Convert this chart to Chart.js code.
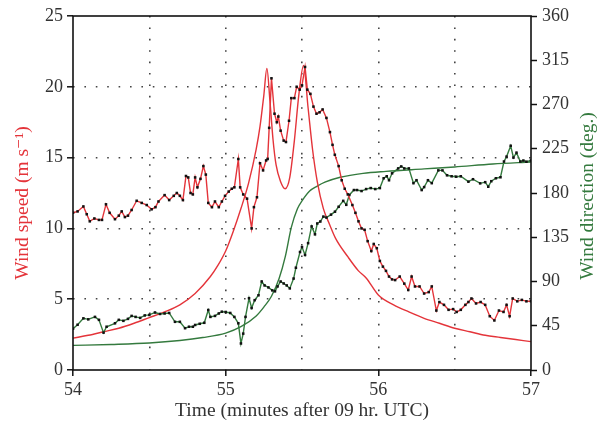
<!DOCTYPE html>
<html>
<head>
<meta charset="utf-8">
<script src="https://cdn.jsdelivr.net/npm/chart.js@4.4.0/dist/chart.umd.min.js"></script>
<style>
  html, body { margin: 0; padding: 0; background: #fff; }
  #wrap { width: 603px; height: 425px; }
</style>
</head>
<body>
<div id="wrap"><canvas id="grafico" width="603" height="425"></canvas></div>
<script>
// observed wind speed (minutes after 09 UTC, m/s)
const spdObsT = [54.00, 54.03, 54.068, 54.09, 54.11, 54.14, 54.17, 54.19, 54.216, 54.24, 54.275, 54.30, 54.319, 54.34, 54.36, 54.384, 54.417, 54.45, 54.483, 54.515, 54.54, 54.56, 54.60, 54.63, 54.66, 54.68, 54.70, 54.72, 54.74, 54.755, 54.77, 54.785, 54.80, 54.815, 54.835, 54.854, 54.87, 54.886, 54.91, 54.93, 54.955, 54.975, 54.996, 55.02, 55.04, 55.057, 55.083, 55.095, 55.115, 55.14, 55.17, 55.185, 55.205, 55.225, 55.245, 55.265, 55.275, 55.285, 55.30, 55.32, 55.335, 55.345, 55.36, 55.38, 55.395, 55.415, 55.43, 55.45, 55.465, 55.485, 55.50, 55.52, 55.535, 55.555, 55.575, 55.595, 55.615, 55.635, 55.66, 55.683, 55.70, 55.715, 55.74, 55.76, 55.78, 55.80, 55.83, 55.85, 55.87, 55.89, 55.91, 55.93, 55.954, 55.97, 55.99, 56.01, 56.03, 56.05, 56.07, 56.09, 56.11, 56.14, 56.17, 56.196, 56.218, 56.24, 56.27, 56.30, 56.33, 56.35, 56.38, 56.40, 56.43, 56.46, 56.49, 56.513, 56.54, 56.57, 56.59, 56.61, 56.64, 56.67, 56.70, 56.73, 56.76, 56.79, 56.82, 56.84, 56.86, 56.88, 56.91, 56.94, 56.97, 57.00];
const spdObs = [11.1, 11.2, 11.55, 11.0, 10.5, 10.7, 10.6, 10.6, 11.7, 11.1, 10.65, 10.9, 11.2, 10.8, 10.9, 11.3, 11.95, 11.8, 11.65, 11.35, 11.5, 11.9, 12.35, 12.0, 12.3, 12.5, 12.3, 12.0, 13.7, 13.6, 12.5, 12.4, 13.6, 12.9, 13.5, 14.4, 13.8, 11.8, 11.5, 11.9, 11.5, 11.9, 12.3, 12.6, 12.8, 12.9, 14.9, 12.9, 12.4, 12.1, 10.0, 11.5, 12.2, 14.6, 14.1, 14.8, 14.9, 17.1, 20.6, 18.1, 17.5, 17.9, 16.9, 16.2, 16.1, 17.6, 19.2, 19.2, 20.0, 19.8, 20.1, 21.4, 19.8, 19.5, 18.6, 18.1, 18.2, 18.4, 17.8, 16.8, 15.9, 15.2, 14.4, 13.4, 12.8, 12.4, 11.65, 11.1, 10.5, 10.0, 9.9, 9.1, 8.4, 8.9, 8.6, 7.7, 7.3, 7.0, 6.6, 6.4, 6.35, 6.6, 6.1, 5.65, 6.6, 5.9, 5.9, 5.4, 5.5, 5.9, 4.2, 4.8, 4.6, 4.25, 4.3, 4.1, 4.25, 4.6, 4.8, 5.05, 4.7, 4.8, 4.6, 3.8, 3.5, 4.2, 4.1, 4.6, 3.8, 5.05, 4.85, 4.95, 4.85, 4.85];

// observed wind direction (deg.)
const dirObsT = [54.00, 54.03, 54.068, 54.10, 54.144, 54.17, 54.20, 54.22, 54.275, 54.30, 54.33, 54.36, 54.384, 54.41, 54.44, 54.47, 54.50, 54.537, 54.57, 54.60, 54.63, 54.668, 54.70, 54.734, 54.76, 54.785, 54.80, 54.83, 54.86, 54.886, 54.90, 54.93, 54.955, 54.975, 55.00, 55.03, 55.057, 55.083, 55.10, 55.115, 55.13, 55.153, 55.17, 55.19, 55.215, 55.236, 55.255, 55.28, 55.305, 55.323, 55.34, 55.36, 55.38, 55.40, 55.42, 55.445, 55.46, 55.487, 55.50, 55.52, 55.54, 55.563, 55.585, 55.60, 55.62, 55.64, 55.66, 55.69, 55.716, 55.74, 55.77, 55.79, 55.81, 55.84, 55.86, 55.89, 55.92, 55.95, 55.98, 56.01, 56.035, 56.055, 56.07, 56.09, 56.13, 56.15, 56.17, 56.20, 56.23, 56.25, 56.284, 56.30, 56.325, 56.35, 56.393, 56.42, 56.45, 56.48, 56.51, 56.54, 56.59, 56.62, 56.667, 56.70, 56.72, 56.74, 56.77, 56.80, 56.823, 56.84, 56.867, 56.885, 56.905, 56.93, 56.95, 56.97, 57.00];
const dirObs = [42, 46, 52.5, 51.5, 54, 51, 38, 44, 47.5, 51, 50, 52, 55, 54, 53, 55.5, 56, 58.5, 57, 57.5, 58, 49, 49, 42.5, 44, 44, 45.8, 47, 48, 61, 54, 55, 57.5, 59.3, 59, 58, 54, 47.5, 27, 37, 54, 73, 63, 71, 76, 90, 86, 84, 81, 80, 85, 90, 88, 86, 83, 93, 104, 120, 125, 117, 129, 146, 138, 149, 151, 156, 155, 158, 161, 166, 172, 168, 178, 183, 183, 182, 184, 185, 184, 185, 195, 197, 193, 200, 205, 207, 205, 205, 190, 193, 183, 186, 193, 190, 203, 203, 198, 197, 196.6, 197, 191.5, 194, 189.8, 191, 186.4, 192, 195, 196, 212, 217, 228, 216, 221, 212, 213, 211.8, 213];

// model wind speed
const spdModT = [54.0, 54.1, 54.2, 54.3, 54.4, 54.5, 54.6, 54.7, 54.8, 54.9, 54.95, 55.0, 55.05, 55.1, 55.15, 55.2, 55.225, 55.25, 55.27, 55.29, 55.31, 55.33, 55.36, 55.39, 55.42, 55.45, 55.48, 55.51, 55.54, 55.57, 55.60, 55.64, 55.68, 55.72, 55.8, 55.87, 55.92, 56.0, 56.1, 56.2, 56.3, 56.4, 56.5, 56.6, 56.7, 56.8, 56.9, 57.0];
const spdMod = [2.25, 2.45, 2.7, 2.95, 3.3, 3.7, 4.1, 4.6, 5.4, 6.6, 7.4, 8.4, 9.8, 11.4, 13.2, 15.6, 17.2, 19.4, 21.3, 19.0, 16.3, 14.5, 13.3, 12.8, 13.6, 16.2, 19.5, 21.5, 18.5, 15.5, 13.3, 11.4, 10.3, 9.3, 8.0, 7.0, 6.5, 5.3, 4.6, 4.1, 3.65, 3.3, 2.95, 2.7, 2.45, 2.3, 2.15, 2.0];

// model wind direction
const dirModT = [54.0, 54.25, 54.5, 54.7, 54.85, 55.0, 55.1, 55.2, 55.25, 55.3, 55.35, 55.39, 55.43, 55.47, 55.5, 55.55, 55.6, 55.65, 55.75, 55.9, 56.05, 56.3, 56.5, 56.75, 57.0];
const dirMod = [25, 26, 27.5, 30, 33, 37.5, 44, 55, 64, 75, 93, 115, 145, 164, 172, 182, 187, 191, 196, 200, 202, 204.5, 206.5, 209.5, 211.5];

const xLabels = [54, 55, 56, 57];

const RED = 'rgb(228, 52, 58)';
const GREEN = 'rgb(52, 122, 62)';
const SERIF = '"Liberation Serif", "DejaVu Serif", serif';

function pts(t, v) {
    return t.map((x, i) => ({ x: x, y: v[i] }));
}

// frame round the plot, plus both vertical axis titles (reading bottom to top)
const frame = {
    id: 'frame',
    afterDraw(chart) {
        const { ctx, chartArea: a } = chart;
        ctx.save();
        ctx.strokeStyle = '#111';
        ctx.lineWidth = 1.6;
        ctx.strokeRect(a.left, a.top, a.right - a.left, a.bottom - a.top);
        ctx.font = '19.5px ' + SERIF;
        ctx.textAlign = 'center';
        ctx.textBaseline = 'middle';

        ctx.save();
        ctx.translate(23, 203);
        ctx.rotate(-Math.PI / 2);
        ctx.fillStyle = RED;
        ctx.fillText('Wind speed (m s\u207B\u00B9)', 0, 0);
        ctx.restore();

        ctx.translate(588, 196);
        ctx.rotate(-Math.PI / 2);
        ctx.fillStyle = GREEN;
        ctx.fillText('Wind direction (deg.)', 0, 0);
        ctx.restore();
    }
};

const dotted = [1.6, 9.8];

new Chart(document.getElementById('grafico').getContext('2d'), {
    type: 'line',
    data: {
        datasets: [{
            label: 'Observed speed',
            data: pts(spdObsT, spdObs),
            yAxisID: 'y',
            borderColor: RED,
            borderWidth: 1.4,
            pointRadius: 1.8,
            pointBackgroundColor: '#111',
            pointBorderWidth: 0,
            pointStyle: 'rect'
        }, {
            label: 'Observed direction',
            data: pts(dirObsT, dirObs),
            yAxisID: 'y1',
            borderColor: GREEN,
            borderWidth: 1.4,
            pointRadius: 1.8,
            pointBackgroundColor: '#111',
            pointBorderWidth: 0,
            pointStyle: 'rect'
        }, {
            label: 'Model speed',
            data: pts(spdModT, spdMod),
            yAxisID: 'y',
            borderColor: RED,
            borderWidth: 1.4,
            pointRadius: 0,
            cubicInterpolationMode: 'monotone'
        }, {
            label: 'Model direction',
            data: pts(dirModT, dirMod),
            yAxisID: 'y1',
            borderColor: GREEN,
            borderWidth: 1.4,
            pointRadius: 0,
            cubicInterpolationMode: 'monotone'
        }]
    },
    options: {
        responsive: false,
        animation: false,
        layout: { padding: { top: 16, left: 0, right: 0, bottom: 0 } },
        plugins: {
            legend: { display: false },
            tooltip: { enabled: false }
        },
        scales: {
            x: {
                type: 'linear',
                position: 'bottom',
                min: 54,
                max: 57,
                afterFit: function(scale) { scale.height = 55; },
                border: { display: false, dash: dotted },
                grid: {
                    color: function(c) {
                        return (c.tick && (c.tick.value === 54 || c.tick.value === 57)) ? 'rgba(0,0,0,0)' : '#444';
                    },
                    lineWidth: 1.6,
                    tickLength: 6,
                    tickWidth: 1.5,
                    tickBorderDash: [],
                    tickColor: function(c) {
                        return (c.tick && xLabels.includes(c.tick.value)) ? '#111' : 'rgba(0,0,0,0)';
                    }
                },
                ticks: {
                    stepSize: 0.5,
                    padding: 3,
                    color: '#333',
                    font: { family: SERIF, size: 18 },
                    callback: function(value) {
                        return xLabels.includes(value) ? String(value) : '';
                    }
                },
                title: {
                    display: true,
                    text: 'Time (minutes after 09 hr. UTC)',
                    color: '#333',
                    font: { family: SERIF, size: 19.5 },
                    padding: { top: 0, bottom: 2 }
                }
            },
            y: {
                position: 'left',
                min: 0,
                max: 25,
                afterFit: function(scale) { scale.width = 73; },
                border: { display: false, dash: dotted },
                grid: {
                    color: function(c) {
                        return (c.tick && (c.tick.value === 0 || c.tick.value === 25)) ? 'rgba(0,0,0,0)' : '#444';
                    },
                    lineWidth: 1.6,
                    tickLength: 6,
                    tickWidth: 1.5,
                    tickBorderDash: [],
                    tickColor: '#111'
                },
                ticks: {
                    stepSize: 5,
                    padding: 4,
                    color: '#333',
                    font: { family: SERIF, size: 18 }
                }
            },
            y1: {
                position: 'right',
                min: 0,
                max: 360,
                afterFit: function(scale) { scale.width = 72; },
                border: { display: false },
                grid: {
                    drawOnChartArea: false,
                    tickLength: 6,
                    tickWidth: 1.5,
                    tickColor: '#111'
                },
                ticks: {
                    stepSize: 45,
                    padding: 5,
                    color: '#333',
                    font: { family: SERIF, size: 18 }
                }
            }
        }
    },
    plugins: [frame]
});
</script>
</body>
</html>
